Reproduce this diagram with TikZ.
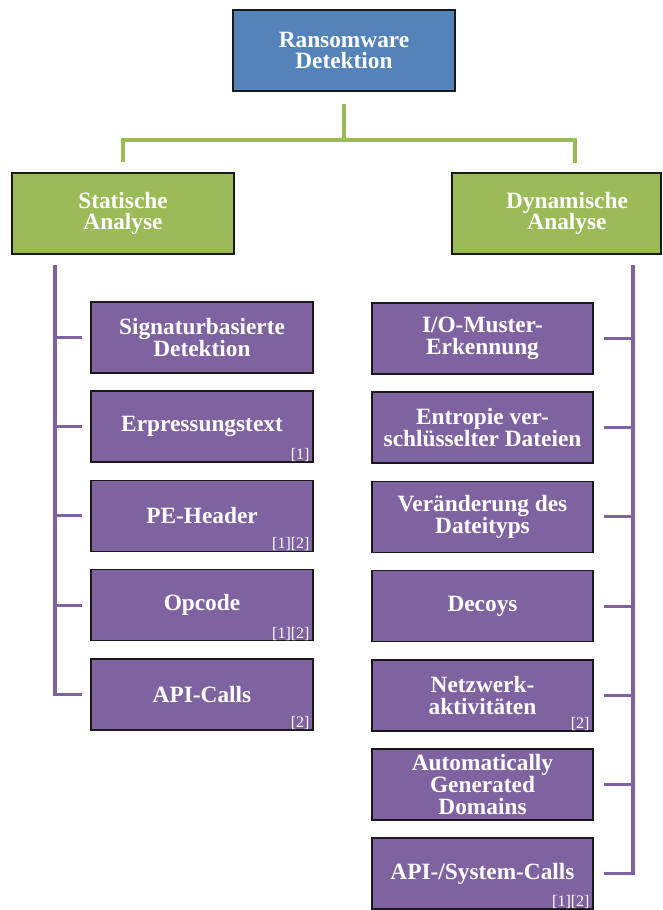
\documentclass[tikz,border=0pt]{standalone}
\usepackage{fontspec}
\setmainfont{Liberation Serif}
\definecolor{topblue}{HTML}{5483BA}
\definecolor{catgreen}{HTML}{9BBB59}
\definecolor{leafpurple}{HTML}{7F63A1}
\begin{document}
\begin{tikzpicture}[x=0.75pt,y=-0.75pt]
\tikzset{
  box/.style={draw=black!90, line width=1.2pt, text=white, align=center, inner sep=0pt,
    font=\bfseries\fontsize{17.5}{16.2}\selectfont},
  topbox/.style={box, fill=topblue, minimum width=166.5pt, minimum height=60.75pt},
  catbox/.style={box, fill=catgreen, minimum height=60.75pt},
  leafbox/.style={box, fill=leafpurple, minimum height=53.25pt},
  leftleaf/.style={leafbox, minimum width=166.5pt},
  rightleaf/.style={leafbox, minimum width=165.75pt},
  cite/.style={text=white, inner sep=0pt, anchor=base east, font=\fontsize{12}{12}\selectfont},
  grnline/.style={draw=catgreen, line width=2.6pt},
  purline/.style={draw=leafpurple, line width=2.3pt},
}
\useasboundingbox (0,0) rectangle (662,910);
\fill[white] (0,0) rectangle (662,910);

% root
\node[topbox] (top) at (344,50.5) {Ransomware\\Detektion};

% categories
\node[catbox, minimum width=166.5pt] (stat) at (123,213.5) {Statische\\Analyse};
\node[catbox, minimum width=156.75pt] (dyn) at (556.5,213.5) {};
\node[box, draw=none] (dynlabel) at (567,213.5) {Dynamische\\Analyse};

% static analysis leaves
\node[leftleaf] (s1) at (202,337.5) {Signaturbasierte\\Detektion};
\node[leftleaf] (s2) at (202,426.7) {Erpressungstext};
\node[leftleaf] (s3) at (202,515.9) {PE-Header};
\node[leftleaf] (s4) at (202,605.1) {Opcode};
\node[leftleaf] (s5) at (202,694.3) {API-Calls};

% dynamic analysis leaves
\node[rightleaf] (d1) at (482.5,338.5) {I/O-Muster-\\Erkennung};
\node[rightleaf] (d2) at (482.5,427.7) {Entropie ver-\\schlüsselter Dateien};
\node[rightleaf] (d3) at (482.5,516.9) {Veränderung des\\Dateityps};
\node[rightleaf] (d4) at (482.5,606.1) {Decoys};
\node[rightleaf] (d5) at (482.5,695.3) {Netzwerk-\\aktivitäten};
\node[rightleaf] (d6) at (482.5,784.5) {Automatically\\Generated\\Domains};
\node[rightleaf] (d7) at (482.5,873.7) {API-/System-Calls};

% source references
\node[cite] (c2) at ([xshift=-3pt,yshift=2.5pt]s2.south east) {[1]};
\node[cite] (c3) at ([xshift=-3pt,yshift=2.5pt]s3.south east) {[1][2]};
\node[cite] (c4) at ([xshift=-3pt,yshift=2.5pt]s4.south east) {[1][2]};
\node[cite] (c5) at ([xshift=-3pt,yshift=2.5pt]s5.south east) {[2]};
\node[cite] (e5) at ([xshift=-3pt,yshift=2.5pt]d5.south east) {[2]};
\node[cite] (e7) at ([xshift=-3pt,yshift=2.5pt]d7.south east) {[1][2]};

% green tree connectors
\coordinate (hub) at (344,140);
\coordinate (dynstub) at (575,173);
\draw[grnline, shorten <=9pt] (top.south) -- (hub);
\draw[grnline, shorten >=7.5pt] (hub) -| (stat.north);
\draw[grnline, shorten >=7.5pt] (hub) -| (dynstub);

% purple trunks with branches
\coordinate (lt) at (55,265);
\coordinate (rt) at (633,265);
\foreach \n in {s1,s2,s3,s4,s5}
  \draw[purline, shorten >=6pt] (lt) |- (\n.west);
\foreach \n in {d1,d2,d3,d4,d5,d6,d7}
  \draw[purline, shorten >=7.5pt] (rt) |- (\n.east);
\end{tikzpicture}
\end{document}
